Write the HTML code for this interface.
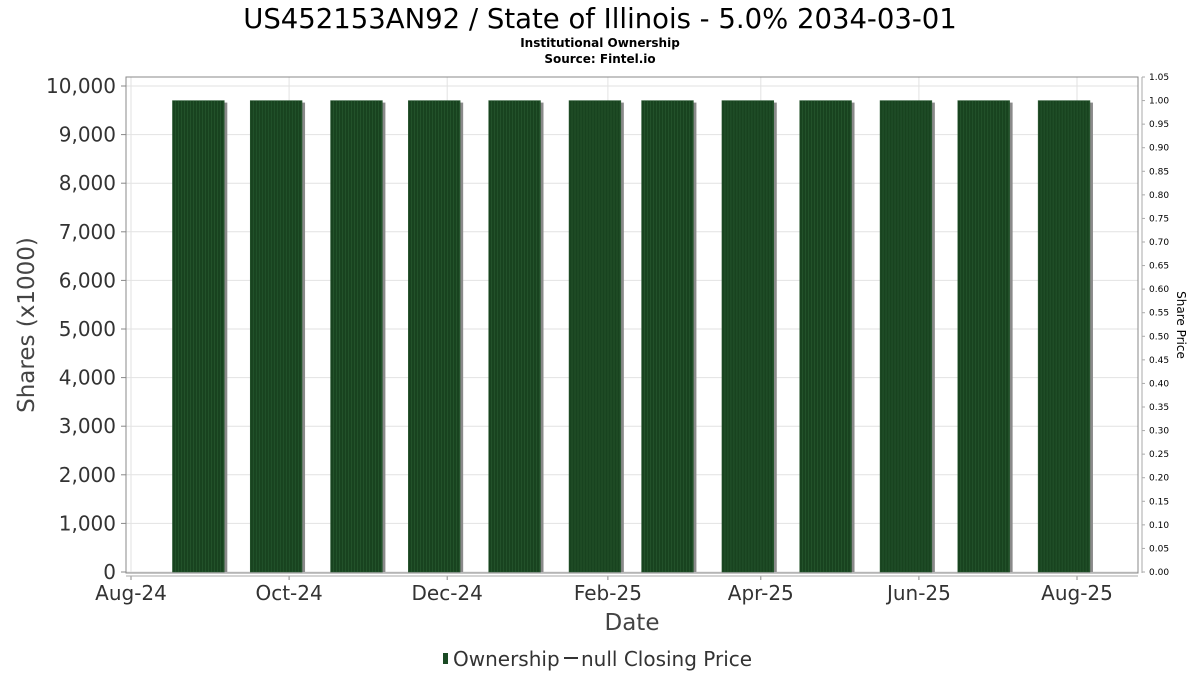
<!DOCTYPE html>
<html><head><meta charset="utf-8"><style>
body{margin:0;background:#fff;font-family:"DejaVu Sans","Liberation Sans",sans-serif;}
svg text{font-family:"DejaVu Sans","Liberation Sans",sans-serif;}
</style></head><body>
<svg id="chart" width="1200" height="675" xmlns="http://www.w3.org/2000/svg">
<rect width="1200" height="675" fill="#fff"/>
<text x="600" y="28" text-anchor="middle" font-size="27.5" fill="#000">US452153AN92 / State of Illinois - 5.0% 2034-03-01</text>
<text x="600" y="47" text-anchor="middle" font-size="12" font-weight="bold" fill="#000">Institutional Ownership</text>
<text x="600" y="63" text-anchor="middle" font-size="12" font-weight="bold" fill="#000">Source: Fintel.io</text>
<g id="grid"></g>
<g id="bars"></g>
<rect x="126" y="77" width="1012" height="496" fill="none" stroke="#888" stroke-width="1"/>
<g id="axes"></g>
<text transform="translate(34,325) rotate(-90)" text-anchor="middle" font-size="23" fill="#444">Shares (x1000)</text>
<text x="632" y="630" text-anchor="middle" font-size="23" fill="#444">Date</text>
<text transform="translate(1177,325) rotate(90)" text-anchor="middle" font-size="12" fill="#000">Share Price</text>
<g>
<rect x="443" y="653" width="5" height="11" fill="#1a4a24"/>
<text x="453" y="666" font-size="20" fill="#333">Ownership</text>
<line x1="564" y1="658" x2="578" y2="658" stroke="#333" stroke-width="2"/>
<text x="581" y="666" font-size="20" fill="#333">null Closing Price</text>
</g>
</svg>
<script>
const barDates = ["2024-08-31","2024-09-30","2024-10-31","2024-11-30","2024-12-31","2025-01-31","2025-02-28","2025-03-31","2025-04-30","2025-05-31","2025-06-30","2025-07-31"];
const ownershipValues = [9700,9700,9700,9700,9700,9700,9700,9700,9700,9700,9700,9700];
const yTicks = [0,1000,2000,3000,4000,5000,6000,7000,8000,9000,10000];
const xTickDates = ["2024-08-01","2024-10-01","2024-12-01","2025-02-01","2025-04-01","2025-06-01","2025-08-01"];
const xTickLabels = ["Aug-24","Oct-24","Dec-24","Feb-25","Apr-25","Jun-25","Aug-25"];
const priceTicks = [0,0.05,0.1,0.15,0.2,0.25,0.3,0.35,0.4,0.45,0.5,0.55,0.6,0.65,0.7,0.75,0.8,0.85,0.9,0.95,1.0,1.05];

const NS="http://www.w3.org/2000/svg";
const d0=Date.parse("2024-08-01"), pxPerDay=(1077-131)/365;
function xs(d){return 131+(Date.parse(d)-d0)/86400000*pxPerDay;}
function ys(v){return 572-v*(572-86)/10000;}
function yp(v){return 572-v*(572-77)/1.05;}
function mk(tag,attrs,parent){const e=document.createElementNS(NS,tag);for(const k in attrs)e.setAttribute(k,attrs[k]);parent.appendChild(e);return e;}
const grid=document.getElementById('grid'),bars=document.getElementById('bars'),axes=document.getElementById('axes');
yTicks.forEach(v=>{
 const l=mk('line',{x1:126,x2:1138,y1:ys(v),y2:ys(v),stroke:'#e2e2e2'},grid);
 
 
 mk('line',{x1:121,x2:126,y1:ys(v),y2:ys(v),stroke:'#888'},axes);
 const t=mk('text',{x:116,y:ys(v)+7,'text-anchor':'end','font-size':20,fill:'#333'},axes);
 t.textContent=v.toLocaleString('en-US');
 
 
});
xTickDates.forEach((d,i)=>{
 const x=xs(d);
 const l=mk('line',{x1:x,x2:x,y1:77,y2:573,stroke:'#e2e2e2'},grid);
 
 
 mk('line',{x1:x,x2:x,y1:576,y2:580,stroke:'#888'},axes);
 const t=mk('text',{x:x,y:600,'text-anchor':'middle','font-size':20,fill:'#333'},axes);
 t.textContent=xTickLabels[i];
 
 
});
mk('line',{x1:126,x2:1138,y1:576,y2:576,stroke:'#aaa'},axes);
mk('line',{x1:1142,x2:1142,y1:77,y2:573,stroke:'#aaa'},axes);
priceTicks.forEach(v=>{
 mk('line',{x1:1142,x2:1145,y1:yp(v),y2:yp(v),stroke:'#aaa'},axes);
 const t=mk('text',{x:1149,y:yp(v)+3,'font-size':9,fill:'#000'},axes);
 t.textContent=v.toFixed(2);
 
 
});
const bw=20*pxPerDay;
barDates.forEach((d,i)=>{
 const cx=xs(d)-4*pxPerDay, top=ys(ownershipValues[i]);
 const s=mk('rect',{x:cx-bw/2+3,y:top+2,width:bw,height:572-top-2,fill:'#8a8a8a'},bars);
 
 
 const b=mk('rect',{x:cx-bw/2,y:top,width:bw,height:572-top,fill:'#18431f',stroke:'#2a5a32','stroke-width':0.5},bars);
 
 
 for(let k=3;k<bw;k+=3){mk('line',{x1:cx-bw/2+k,x2:cx-bw/2+k,y1:top,y2:572,stroke:'#2a5c33','stroke-width':0.6},bars);}
});
</script>
</body></html>
